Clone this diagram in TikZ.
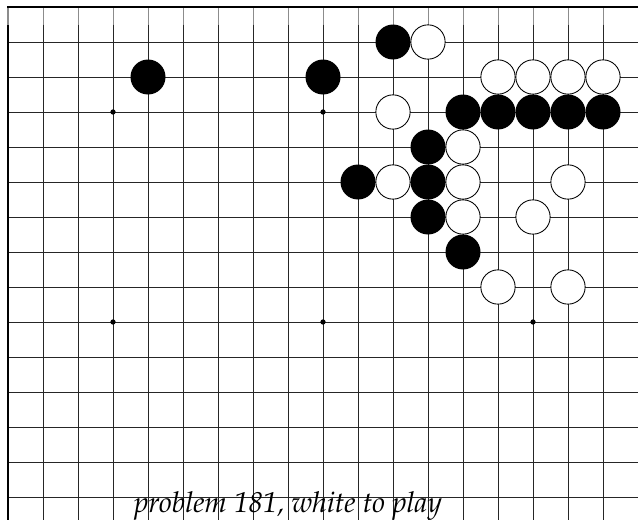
\documentclass[tikz,border=0pt]{standalone}
\usepackage[T1]{fontenc}
\usepackage{tikz}

\tikzset{
  gridline/.style={black!85, line width=0.75pt},
  fadeline/.style={black!45, line width=0.75pt},
  edgeline/.style={black, line width=1.5pt},
  blackstone/.style={fill=black},
  whitestone/.style={fill=white, draw=black, line width=0.7pt},
  caption/.style={font=\fontfamily{ppl}\fontshape{it}\fontsize{23.4}{27}\selectfont, inner sep=0pt}
}

\begin{document}
\begin{tikzpicture}[x=1cm, y=-1cm]
  \useasboundingbox (-0.2286,-0.2) rectangle (18,14.629);

  % board lines
  \foreach \r in {1,...,14}
    \draw[gridline] (0,\r) -- (18,\r);
  \foreach \c in {1,...,17} {
    \draw[fadeline] (\c,0) -- (\c,0.5);
    \draw[gridline] (\c,0.5) -- (\c,14.8);
  }
  \draw[fadeline, line width=1.5pt] (0,0) -- (0,0.5);
  \draw[edgeline] (0,14.8) -- (0,0.5);
  \draw[edgeline] (-0.02,0) -- (18,0);

  % star points
  \foreach \c in {3,9,15}
    \foreach \r in {3,9}
      \fill (\c,\r) circle (0.075);

  % black stones
  \foreach \c/\r in {11/1, 4/2, 9/2, 13/3, 14/3, 15/3, 16/3, 17/3,
                     12/4, 10/5, 12/5, 12/6, 13/7}
    \fill[blackstone] (\c,\r) circle (0.5);

  % white stones
  \foreach \c/\r in {12/1, 14/2, 15/2, 16/2, 17/2, 11/3, 13/4,
                     11/5, 13/5, 16/5, 13/6, 15/6, 14/8, 16/8}
    \draw[whitestone] (\c,\r) circle (0.49);

  \node[caption, anchor=base] (problem) at (8,14.44) {problem 181, white to play};
\end{tikzpicture}
\end{document}
